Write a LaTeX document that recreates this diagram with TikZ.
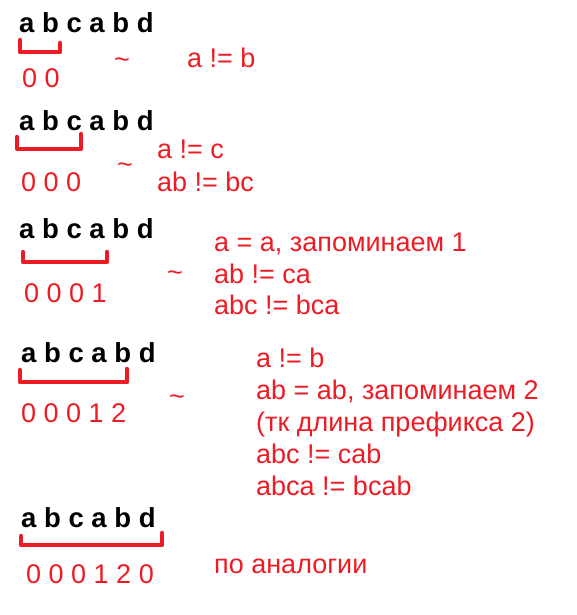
\documentclass[tikz,border=0pt]{standalone}
\usepackage{fontspec}
\setmainfont{Liberation Sans}
\definecolor{pred}{HTML}{ED1C24}
\tikzset{
  seq/.style={anchor=base west, inner sep=0pt, font=\fontsize{27.5}{32}\selectfont\bfseries, text=black},
  rtxt/.style={anchor=base west, inner sep=0pt, font=\fontsize{27}{32}\selectfont, text=pred},
  brk/.style={draw=pred, line width=4.5pt, line cap=round, line join=round}
}
\begin{document}
\begin{tikzpicture}[x=1pt,y=-1pt]
\useasboundingbox (0,0) rectangle (576,615);
% row 1
\node[seq] (s1) at (19,33) {a b c a b d};
\coordinate (b1a) at (20,40); \coordinate (b1b) at (20,52);
\coordinate (b1c) at (60,52); \coordinate (b1d) at (60,43);
\draw[brk] (b1a) -- (b1b) -- (b1c) -- (b1d);
\node[rtxt] (d1) at (22,88) {0 0};
\node[rtxt] (t1) at (114,69) {\textasciitilde};
\node[rtxt] (c1) at (187,68) {a != b};
% row 2
\node[seq] (s2) at (19,131) {a b c a b d};
\coordinate (b2a) at (17,137); \coordinate (b2b) at (17,149);
\coordinate (b2c) at (81,149); \coordinate (b2d) at (81,134);
\draw[brk] (b2a) -- (b2b) -- (b2c) -- (b2d);
\node[rtxt] (d2) at (21,191) {0 0 0};
\node[rtxt] (t2) at (117,173) {\textasciitilde};
\node[rtxt] (c2a) at (157,158) {a != c};
\node[rtxt] (c2b) at (157,191) {ab != bc};
% row 3
\node[seq] (s3) at (19,238) {a b c a b d};
\coordinate (b3a) at (23,252); \coordinate (b3b) at (23,262);
\coordinate (b3c) at (107,262); \coordinate (b3d) at (107,252);
\draw[brk] (b3a) -- (b3b) -- (b3c) -- (b3d);
\node[rtxt] (d3) at (24,302) {0 0 0 1};
\node[rtxt] (t3) at (167,281) {\textasciitilde};
\node[rtxt] (c3a) at (214,251) {a = a, запоминаем 1};
\node[rtxt] (c3b) at (214,283) {ab != ca};
\node[rtxt] (c3c) at (214,314) {abc != bca};
% row 4
\node[seq] (s4) at (21,362) {a b c a b d};
\coordinate (b4a) at (20,370); \coordinate (b4b) at (20,382);
\coordinate (b4c) at (127,382); \coordinate (b4d) at (127,369);
\draw[brk] (b4a) -- (b4b) -- (b4c) -- (b4d);
\node[rtxt] (d4) at (21,422) {0 0 0 1 2};
\node[rtxt] (t4) at (169,405) {\textasciitilde};
\node[rtxt] (c4a) at (256,367) {a != b};
\node[rtxt] (c4b) at (256,399) {ab = ab, запоминаем 2};
\node[rtxt] (c4c) at (256,431) {(тк длина префикса 2)};
\node[rtxt] (c4d) at (256,463) {abc != cab};
\node[rtxt] (c4e) at (256,495) {abca != bcab};
% row 5
\node[seq] (s5) at (21,527) {a b c a b d};
\coordinate (b5a) at (21,536); \coordinate (b5b) at (21,545);
\coordinate (b5c) at (162,545); \coordinate (b5d) at (162,533);
\draw[brk] (b5a) -- (b5b) -- (b5c) -- (b5d);
\node[rtxt] (d5) at (26,583) {0 0 0 1 2 0};
\node[rtxt] (c5) at (214,573) {по аналогии};
\end{tikzpicture}
\end{document}
